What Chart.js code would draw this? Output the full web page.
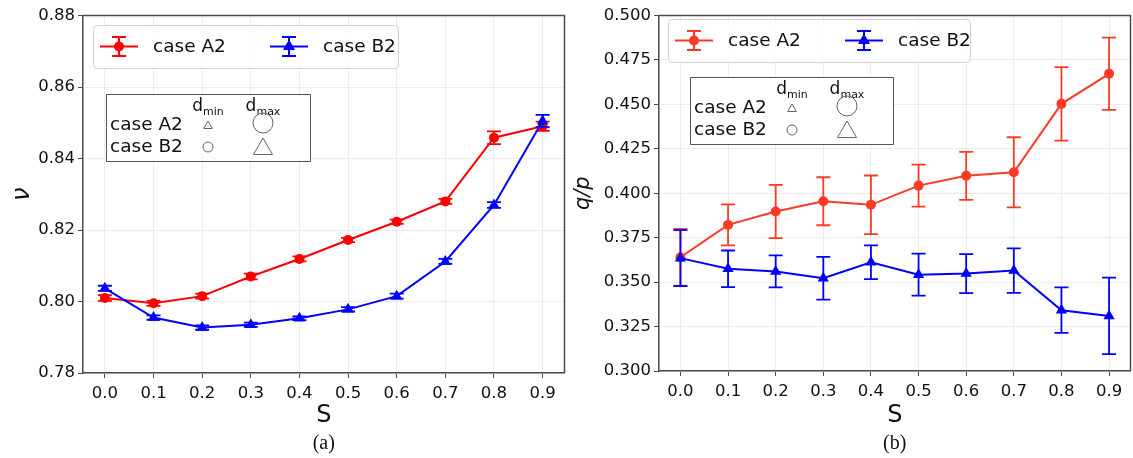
<!DOCTYPE html>
<html>
<head>
<meta charset="utf-8">
<script src="https://cdn.jsdelivr.net/npm/chart.js@4.4.1/dist/chart.umd.min.js"></script>
<style>
html, body { margin: 0; padding: 0; background: #fff; }
#wrap { position: relative; width: 1133px; height: 458px; overflow: hidden; }
.panel { position: absolute; top: 0; height: 458px; }
</style>
</head>
<body>
<div id="wrap">
    <div class="panel" style="left:0;width:571px"><canvas id="chartA"></canvas></div>
    <div class="panel" style="left:566px;width:571px"><canvas id="chartB"></canvas></div>
</div>
<script>
// S values on the x axis
const sValues = [0.0, 0.1, 0.2, 0.3, 0.4, 0.5, 0.6, 0.7, 0.8, 0.9];
const seriesNames = ['case A2', 'case B2'];

// (a) nu
const nuA2 = [0.8010, 0.7995, 0.8015, 0.8070, 0.8119, 0.8172, 0.8223, 0.8280, 0.8458, 0.8490];
const nuA2Err = [0.0008, 0.0007, 0.0007, 0.0008, 0.0007, 0.0006, 0.0006, 0.0007, 0.0018, 0.0013];
const nuB2 = [0.8037, 0.7955, 0.7927, 0.7935, 0.7953, 0.7978, 0.8015, 0.8112, 0.8270, 0.8505];
const nuB2Err = [0.0007, 0.0006, 0.0006, 0.0006, 0.0005, 0.0006, 0.0007, 0.0007, 0.0008, 0.0017];
const nuTicks = [0.78, 0.80, 0.82, 0.84, 0.86, 0.88];

// (b) q/p
const qpA2 = [0.3640, 0.3822, 0.3897, 0.3955, 0.3935, 0.4043, 0.4098, 0.4118, 0.4503, 0.4672];
const qpA2Err = [0.0160, 0.0115, 0.0150, 0.0135, 0.0165, 0.0118, 0.0135, 0.0197, 0.0207, 0.0203];
const qpB2 = [0.3635, 0.3575, 0.3560, 0.3522, 0.3612, 0.3542, 0.3548, 0.3565, 0.3342, 0.3310];
const qpB2Err = [0.0157, 0.0103, 0.0090, 0.0120, 0.0095, 0.0118, 0.0110, 0.0125, 0.0128, 0.0215];
const qpTicks = [0.300, 0.325, 0.350, 0.375, 0.400, 0.425, 0.450, 0.475, 0.500];

Chart.defaults.font.family = "'DejaVu Sans', sans-serif";
Chart.defaults.color = '#111';

const AXIS = '#4a4a4a';
const GRID = '#ececec';

function pts(vals) { return sValues.map((s, i) => ({ x: s, y: vals[i] })); }

function drawMarker(ctx, style, x, y, r, fill, stroke) {
    ctx.beginPath();
    if (style === 'circle') {
        ctx.arc(x, y, r, 0, Math.PI * 2);
    } else {
        ctx.moveTo(x, y - r);
        ctx.lineTo(x + r * 0.866, y + r * 0.5);
        ctx.lineTo(x - r * 0.866, y + r * 0.5);
        ctx.closePath();
    }
    if (fill) { ctx.fillStyle = fill; ctx.fill(); }
    if (stroke) { ctx.strokeStyle = stroke; ctx.stroke(); }
}

const errorBars = {
    id: 'errorBars',
    beforeDatasetDraw(chart, args) {
        const ds = chart.data.datasets[args.index];
        if (!ds.err) return;
        const { ctx, scales: { x, y } } = chart;
        ctx.save();
        ctx.strokeStyle = ds.borderColor;
        ctx.lineWidth = 1.8;
        ds.data.forEach((p, i) => {
            const px = x.getPixelForValue(p.x);
            const top = y.getPixelForValue(p.y + ds.err[i]);
            const bot = y.getPixelForValue(p.y - ds.err[i]);
            ctx.beginPath();
            ctx.moveTo(px, top); ctx.lineTo(px, bot);
            ctx.moveTo(px - 7, top); ctx.lineTo(px + 7, top);
            ctx.moveTo(px - 7, bot); ctx.lineTo(px + 7, bot);
            ctx.stroke();
        });
        ctx.restore();
    }
};

const decor = {
    id: 'decor',
    afterDraw(chart, args, opts) {
        const { ctx, chartArea: a } = chart;
        ctx.save();
        // top and right frame
        ctx.strokeStyle = AXIS;
        ctx.lineWidth = 1.5;
        ctx.beginPath();
        ctx.moveTo(a.left, a.top); ctx.lineTo(a.right, a.top); ctx.lineTo(a.right, a.bottom);
        ctx.stroke();

        // legend
        const L = opts.legend;
        ctx.fillStyle = 'rgba(255,255,255,0.85)';
        ctx.strokeStyle = '#d0d0d0';
        ctx.lineWidth = 1;
        ctx.beginPath();
        ctx.roundRect(L.x + 0.5, L.y + 0.5, L.w, L.h, 4);
        ctx.fill(); ctx.stroke();
        const cy = L.y + L.h / 2;
        [0, 1].forEach((k) => {
            const ds = chart.data.datasets.find(d => d.label === seriesNames[k]);
            const x0 = L.x + 7 + k * 170;
            const x1 = x0 + 38;
            const xm = (x0 + x1) / 2;
            ctx.strokeStyle = ds.borderColor;
            ctx.lineWidth = 2;
            ctx.beginPath();
            ctx.moveTo(x0, cy); ctx.lineTo(x1, cy);
            ctx.moveTo(xm, cy - 9.5); ctx.lineTo(xm, cy + 9.5);
            ctx.moveTo(xm - 7, cy - 9.5); ctx.lineTo(xm + 7, cy - 9.5);
            ctx.moveTo(xm - 7, cy + 9.5); ctx.lineTo(xm + 7, cy + 9.5);
            ctx.stroke();
            drawMarker(ctx, ds.pointStyle, xm, cy, ds.pointRadius + (ds.pointStyle === 'circle' ? 0 : 0.5), ds.borderColor);
            ctx.fillStyle = '#111';
            ctx.font = "18.5px 'DejaVu Sans'";
            ctx.textBaseline = 'middle';
            ctx.textAlign = 'left';
            ctx.fillText(ds.label, L.x + 60 + k * 170, cy + 1);
        });

        // inset table of marker sizes
        const T = opts.inset;
        ctx.fillStyle = '#fff';
        ctx.strokeStyle = '#555';
        ctx.lineWidth = 1;
        ctx.beginPath();
        ctx.rect(T.x + 0.5, T.y + 0.5, T.w, T.h);
        ctx.fill(); ctx.stroke();
        ctx.fillStyle = '#111';
        ctx.textBaseline = 'middle';
        ctx.textAlign = 'left';
        ctx.font = "18.5px 'DejaVu Sans'";
        ctx.fillText(seriesNames[0], T.x + 4, T.y + 31);
        ctx.fillText(seriesNames[1], T.x + 4, T.y + 53);
        const heads = [['d', 'min'], ['d', 'max']];
        heads.forEach((h, k) => {
            const cx = T.x + 102 + k * 55;
            ctx.font = "17px 'DejaVu Sans'";
            const wd = ctx.measureText(h[0]).width;
            ctx.font = "11px 'DejaVu Sans'";
            const ws = ctx.measureText(h[1]).width;
            const sx = cx - (wd + ws) / 2;
            ctx.font = "17px 'DejaVu Sans'";
            ctx.fillText(h[0], sx, T.y + 13);
            ctx.font = "11px 'DejaVu Sans'";
            ctx.fillText(h[1], sx + wd, T.y + 18);
        });
        ctx.lineWidth = 1;
        const c1 = T.x + 102, c2 = T.x + 157;
        drawMarker(ctx, 'triangle', c1, T.y + 32, 5, null, '#666');
        drawMarker(ctx, 'circle', c2, T.y + 29, 10, null, '#666');
        drawMarker(ctx, 'circle', c1, T.y + 53, 5, null, '#666');
        drawMarker(ctx, 'triangle', c2, T.y + 55, 11, null, '#666');

        // caption
        ctx.fillStyle = '#111';
        ctx.textAlign = 'center';
        ctx.font = "20px 'Liberation Serif'";
        ctx.fillText(opts.caption, (a.left + a.right) / 2, 444);
        ctx.restore();
    }
};

function makePanel(id, cfg) {
    return new Chart(document.getElementById(id), {
        type: 'line',
        data: {
            datasets: [
                {
                    label: seriesNames[0], data: pts(cfg.a), err: cfg.aErr,
                    borderColor: cfg.red, backgroundColor: cfg.red,
                    borderWidth: 2, pointStyle: 'circle', pointRadius: 5,
                    pointBorderWidth: 0, order: 1
                },
                {
                    label: seriesNames[1], data: pts(cfg.b), err: cfg.bErr,
                    borderColor: '#0000ff', backgroundColor: '#0000ff',
                    borderWidth: 2, pointStyle: 'triangle', pointRadius: 6.5,
                    pointBorderWidth: 0, order: 0
                }
            ]
        },
        options: {
            responsive: true,
            maintainAspectRatio: false,
            animation: false,
            layout: { padding: { top: 15.5, right: 0, left: 0, bottom: 0 } },
            plugins: {
                legend: { display: false },
                tooltip: { enabled: false },
                decor: { legend: cfg.legend, inset: cfg.inset, caption: cfg.caption }
            },
            scales: {
                x: {
                    type: 'linear', min: -0.045, max: 0.945,
                    afterBuildTicks: s => { s.ticks = sValues.map(v => ({ value: v })); },
                    afterFit: s => { s.height = 458 - cfg.bottom; },
                    ticks: { font: { size: 16.5 }, padding: 6, maxRotation: 0, callback: v => v.toFixed(1) },
                    grid: { color: GRID, tickColor: AXIS, tickLength: 5, lineWidth: 1 },
                    border: { color: AXIS, width: 1.5 },
                    title: { display: true, text: 'S', font: { size: 24 }, color: '#111', padding: { top: 0, bottom: 28 } }
                },
                y: {
                    min: cfg.ticks[0], max: cfg.ticks[cfg.ticks.length - 1],
                    afterBuildTicks: s => { s.ticks = cfg.ticks.map(v => ({ value: v })); },
                    afterFit: s => { s.width = cfg.left; },
                    ticks: { font: { size: 16.5 }, padding: 3, callback: v => v.toFixed(cfg.dec) },
                    grid: { color: GRID, tickColor: AXIS, tickLength: 5, lineWidth: 1 },
                    border: { color: AXIS, width: 1.5 },
                    title: { display: true, text: cfg.ytitle, font: { size: cfg.ysize, style: 'italic' }, color: '#111', padding: { top: cfg.ypad, bottom: 0 } }
                }
            }
        },
        plugins: [errorBars, decor]
    });
}

makePanel('chartA', {
    a: nuA2, aErr: nuA2Err, b: nuB2, bErr: nuB2Err, red: '#ff0000',
    ticks: nuTicks, dec: 2, left: 83, bottom: 373,
    ytitle: 'ν', ysize: 24, ypad: 8,
    legend: { x: 93, y: 25, w: 305, h: 43 },
    inset: { x: 106, y: 94, w: 204, h: 67 },
    caption: '(a)'
});

makePanel('chartB', {
    a: qpA2, aErr: qpA2Err, b: qpB2, bErr: qpB2Err, red: '#ff3a24',
    ticks: qpTicks, dec: 3, left: 93, bottom: 371,
    ytitle: 'q/p', ysize: 21, ypad: 5,
    legend: { x: 102, y: 19, w: 302, h: 43 },
    inset: { x: 124, y: 77, w: 203, h: 67 },
    caption: '(b)'
});
</script>
</body>
</html>
